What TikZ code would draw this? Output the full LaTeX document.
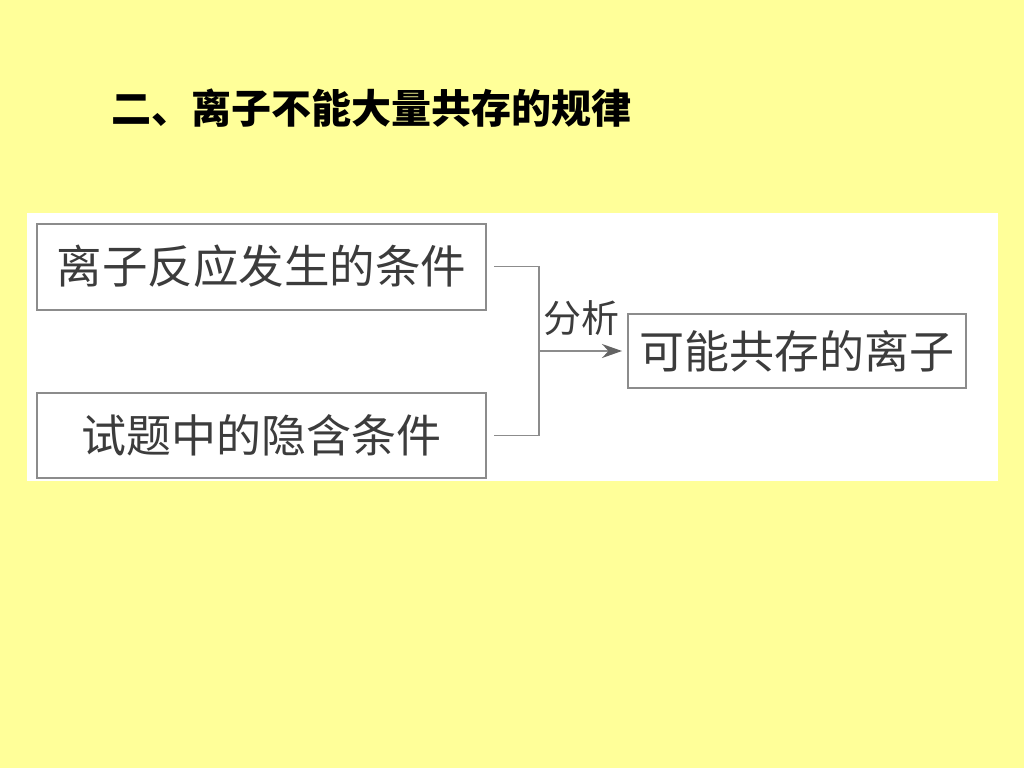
\documentclass[tikz,border=0pt]{standalone}
\usepackage{fontspec}
\usepackage{xcolor}
\usetikzlibrary{arrows.meta}
\newfontfamily\cjk{Noto Sans CJK SC}
\definecolor{bgyellow}{HTML}{FFFF99}
\definecolor{boxgray}{HTML}{8C8C8C}
\definecolor{txtgray}{HTML}{3C3C3C}
\tikzset{
  condbox/.style={draw=boxgray, line width=2pt, fill=white, inner sep=0pt, text=txtgray},
  link/.style={draw=boxgray, line width=1.5pt}
}
\begin{document}
\begin{tikzpicture}[x=1pt,y=-1pt]
        \useasboundingbox (0,0) rectangle (1024,768);
        \fill[bgyellow] (0,0) rectangle (1024,768);
        \fill[white] (27,213) rectangle (998,481);

        \node[anchor=west, font=\cjk\bfseries\fontsize{40}{40}\selectfont] (title) at (108,108) {二、离子不能大量共存的规律};

        \node[condbox, minimum width=449pt, minimum height=86pt, font=\cjk\fontsize{45.5}{45.5}\selectfont] (cond1) at (261.5,266.5) {离子反应发生的条件};
        \node[condbox, minimum width=449pt, minimum height=85pt, font=\cjk\fontsize{45}{45}\selectfont] (cond2) at (261.5,435.5) {试题中的隐含条件};
        \node[condbox, minimum width=338pt, minimum height=74pt, font=\cjk\fontsize{45}{45}\selectfont] (ions) at (797,351) {可能共存的离子};

        \coordinate (join) at (539,351);
        \draw[link, shorten <=7pt] (cond1.east) -| (join);
        \draw[link, shorten <=7pt] (cond2.east) -| (join);
        \draw[link, -{Stealth[length=20pt,width=14pt,color=txtgray!80]}, shorten >=5pt] (join) -- (ions.west);
        \node[text=txtgray, font=\cjk\fontsize{38}{38}\selectfont] (fenxi) at (581,318) {分析};
    \end{tikzpicture}
\end{document}
